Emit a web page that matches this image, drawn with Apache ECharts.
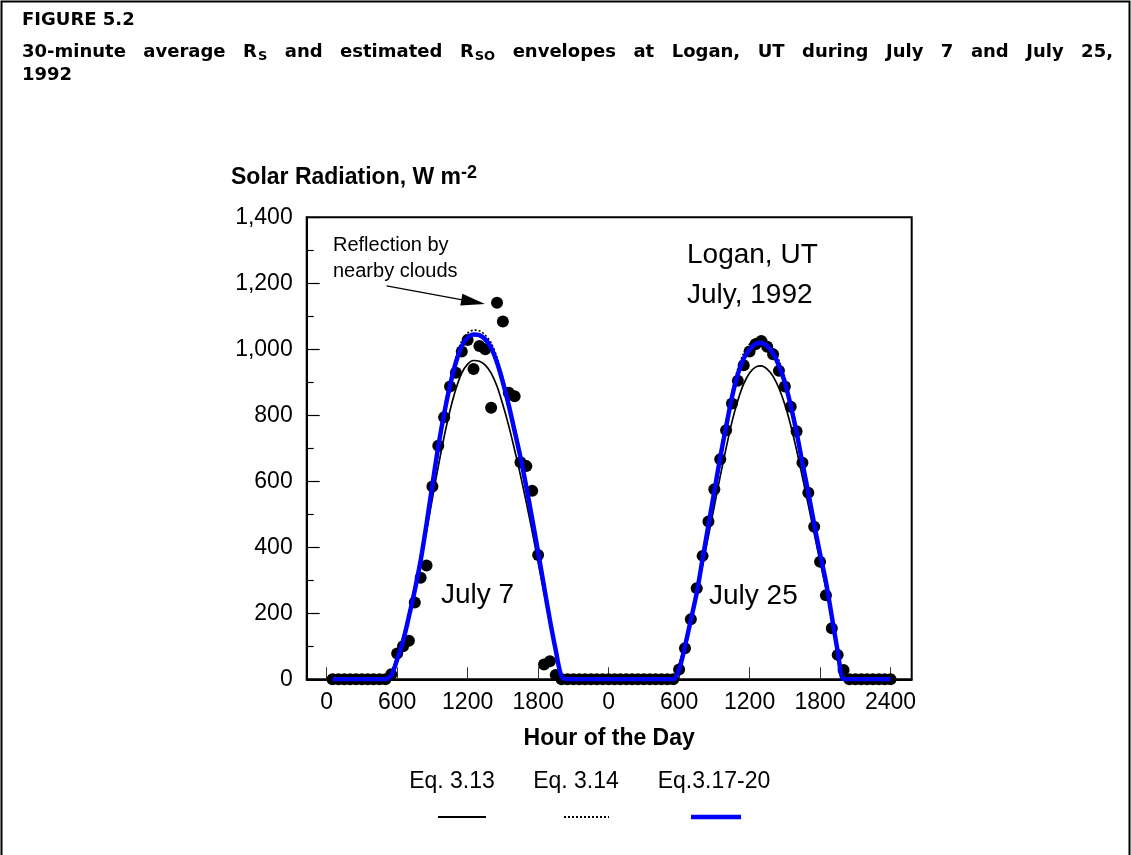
<!DOCTYPE html>
<html>
<head>
<meta charset="utf-8">
<script src="https://cdn.jsdelivr.net/npm/echarts@6/dist/echarts.min.js"></script>
<style>
  html, body { margin: 0; padding: 0; background: #ffffff; }
  #chart { width: 1131px; height: 855px; }
</style>
</head>
<body>
<div id="chart"></div>
<script>
// ---- Data: 30-minute samples, hours of the day ----
const halfHours = [0.5, 1, 1.5, 2, 2.5, 3, 3.5, 4, 4.5, 5, 5.5, 6, 6.5, 7, 7.5, 8,
  8.5, 9, 9.5, 10, 10.5, 11, 11.5, 12, 12.5, 13, 13.5, 14, 14.5, 15, 15.5, 16,
  16.5, 17, 17.5, 18, 18.5, 19, 19.5, 20, 20.5, 21, 21.5, 22, 22.5, 23, 23.5, 24];

// Measured 30-minute average Rs (W m-2)
const july7Measured = [0, 0, 0, 0, 0, 0, 0, 0, 0, 0,
  15, 78, 100, 117, 233, 308, 345, 584, 708, 794, 887, 929, 993, 1028, 940, 1010,
  1000, 823, 1141, 1084, 868, 858, 658, 646, 571, 377, 45, 55, 13,
  0, 0, 0, 0, 0, 0, 0, 0, 0];
const july25Measured = [0, 0, 0, 0, 0, 0, 0, 0, 0, 0, 0,
  30, 94, 182, 276, 374, 478, 576, 667, 755, 836, 905, 952, 993, 1015, 1025, 1008,
  985, 935, 887, 826, 752, 656, 565, 462, 356, 255, 155, 74, 28,
  0, 0, 0, 0, 0, 0, 0, 0];

// Estimated Rso envelopes (W m-2)
const july7Eq313 = [0, 0, 0, 0, 0, 0, 0, 0, 0, 0,
  20, 72, 130, 198, 272, 355, 450, 548, 645, 735, 815, 880, 928, 955, 966, 964,
  952, 928, 888, 832, 768, 695, 618, 535, 447, 355, 262, 172, 88, 15,
  0, 0, 0, 0, 0, 0, 0, 0];
const july25Eq313 = [0, 0, 0, 0, 0, 0, 0, 0, 0, 0, 0,
  45, 110, 180, 255, 345, 435, 525, 615, 700, 780, 845, 895, 928, 946, 950, 940,
  918, 882, 833, 770, 695, 612, 528, 442, 357, 275, 185, 90, 5,
  0, 0, 0, 0, 0, 0, 0, 0];
const july7Eq314 = [0, 0, 0, 0, 0, 0, 0, 0, 0, 0,
  13, 62, 118, 195, 276, 368, 481, 603, 720, 820, 906, 976, 1025, 1049, 1058, 1056,
  1043, 1019, 975, 914, 844, 766, 684, 593, 495, 394, 290, 186, 92, 9,
  0, 0, 0, 0, 0, 0, 0, 0];
const july25Eq314 = [0, 0, 0, 0, 0, 0, 0, 0, 0, 0, 0,
  32, 103, 185, 268, 372, 477, 581, 685, 780, 870, 941, 988, 1016, 1032, 1036, 1026,
  1004, 966, 915, 844, 761, 667, 575, 479, 388, 301, 195, 88, 0,
  0, 0, 0, 0, 0, 0, 0, 0];
const july7Eq31720 = [0, 0, 0, 0, 0, 0, 0, 0, 0, 0,
  12, 60, 115, 190, 270, 360, 470, 590, 705, 805, 890, 960, 1010, 1035, 1045, 1043,
  1030, 1005, 960, 900, 830, 752, 672, 582, 485, 385, 282, 180, 88, 8,
  0, 0, 0, 0, 0, 0, 0, 0];
const july25Eq31720 = [0, 0, 0, 0, 0, 0, 0, 0, 0, 0, 0,
  30, 100, 180, 262, 365, 468, 570, 672, 765, 855, 925, 972, 1000, 1016, 1020, 1010,
  988, 950, 900, 830, 748, 655, 565, 470, 380, 295, 190, 85, 0,
  0, 0, 0, 0, 0, 0, 0, 0];

// Axis ticks (hours along the two-day axis) and their labels
const hourTicks = [0, 6, 12, 18, 24, 30, 36, 42, 48];
const hourLabels = ['0', '600', '1200', '1800', '0', '600', '1200', '1800', '2400'];

const legendNames = ['Eq. 3.13', 'Eq. 3.14', 'Eq.3.17-20'];

// Annotation arrow: tail and arrow-head centre, in data units (hour, W m-2)
const arrowTail = [5.1, 1192];
const arrowHead = [12.47, 1144];

// ---- helpers ----
// July 7 sits on hours 0-24, July 25 on hours 24-48
function twoDays(day1, day2) {
  const out = [];
  halfHours.forEach((h, i) => out.push([h, day1[i]]));
  halfHours.forEach((h, i) => out.push([h + 24, day2[i]]));
  return out;
}

const SANS = '"Liberation Sans", Arial, Helvetica, sans-serif';
const TITLE_FAMILY = '"DejaVu Sans", Verdana, sans-serif';
const titleSize = 18, subSize = 13;

// caption: each word placed so the line is justified between two margins
const captionWords = ['30-minute', 'average', ['R', 'S'], 'and', 'estimated', ['R', 'SO'],
  'envelopes', 'at', 'Logan,', 'UT', 'during', 'July', '7', 'and', 'July', '25,'];

function captionElements(left, right, y) {
  const c = document.createElement('canvas').getContext('2d');
  const mainFont = 'bold ' + titleSize + 'px ' + TITLE_FAMILY;
  const subFont = 'bold ' + subSize + 'px ' + TITLE_FAMILY;
  const widths = captionWords.map(w => {
    if (Array.isArray(w)) {
      c.font = mainFont; const a = c.measureText(w[0]).width;
      c.font = subFont; return a + c.measureText(w[1]).width + 1;
    }
    c.font = mainFont; return c.measureText(w).width;
  });
  const total = widths.reduce((s, v) => s + v, 0);
  const gap = (right - left - total) / (captionWords.length - 1);
  let x = left;
  return captionWords.map((w, i) => {
    const el = {
      type: 'text', x: x, y: y, silent: true,
      style: Array.isArray(w) ? {
        text: '{m|' + w[0] + '}{s|' + w[1] + '}',
        rich: {
          m: { font: mainFont, fill: '#000' },
          s: { font: subFont, fill: '#000', padding: [10, 0, 0, 1] }
        },
        textAlign: 'left', textVerticalAlign: 'middle', align: 'left', verticalAlign: 'middle'
      } : {
        text: w, font: mainFont, fill: '#000',
        textAlign: 'left', textVerticalAlign: 'middle', align: 'left', verticalAlign: 'middle'
      }
    };
    x += widths[i] + gap;
    return el;
  });
}

function txt(x, y, text, font, align) {
  return {
    type: 'text', x: x, y: y, silent: true,
    style: { text: text, font: font, fill: '#000',
      textAlign: align || 'left', textVerticalAlign: 'middle',
      align: align || 'left', verticalAlign: 'middle' }
  };
}

// legend drawn below the axis title: name above a short line sample
const legendTextX = [452, 576, 714];
const legendLineX = [[438, 486], [564, 609], [691, 741]];
const legendLineStyles = [
  { stroke: '#000', lineWidth: 2 },
  { stroke: '#000', lineWidth: 2, lineDash: [2, 2] },
  { stroke: '#0000ff', lineWidth: 4.5 }
];
const legendElements = [];
legendNames.forEach((name, i) => {
  legendElements.push(txt(legendTextX[i], 782, name, '23px ' + SANS, 'center'));
  legendElements.push({
    type: 'line', silent: true,
    shape: { x1: legendLineX[i][0], y1: 817, x2: legendLineX[i][1], y2: 817 },
    style: legendLineStyles[i]
  });
});

const chart = echarts.init(document.getElementById('chart'), null, { renderer: 'canvas' });

const option = {
  animation: false,
  backgroundColor: '#ffffff',
  grid: {
    left: 306.7, top: 217.3, width: 605, height: 462,
    show: true, borderColor: '#000', borderWidth: 2, backgroundColor: 'transparent',
    containLabel: false
  },
  xAxis: {
    type: 'value', min: -1.7, max: 49.8,
    axisLine: { show: true, onZero: false, lineStyle: { color: '#000', width: 2 } },
    axisTick: { show: true, inside: true, length: 12, customValues: hourTicks,
      lineStyle: { color: '#333', width: 1 } },
    axisLabel: { customValues: hourTicks, color: '#000', fontSize: 23, fontFamily: SANS, margin: 12,
      formatter: v => hourLabels[hourTicks.indexOf(v)] },
    splitLine: { show: false },
    name: 'Hour of the Day', nameLocation: 'middle', nameGap: 48,
    nameTextStyle: { color: '#000', fontSize: 23, fontWeight: 'bold', fontFamily: SANS }
  },
  yAxis: {
    type: 'value', min: 0, max: 1400, interval: 200,
    axisLine: { show: true, onZero: false, lineStyle: { color: '#000', width: 2 } },
    axisTick: { show: true, inside: true, length: 13, lineStyle: { color: '#000', width: 1.2 } },
    minorTick: { show: true, splitNumber: 2, length: 7, lineStyle: { color: '#000', width: 1.2 } },
    axisLabel: { color: '#000', fontSize: 23, fontFamily: SANS, margin: 14,
      formatter: v => String(v).replace(/\B(?=(\d{3})+(?!\d))/g, ',') },
    splitLine: { show: false }
  },
  series: [
    {
      name: 'Measured', type: 'scatter', z: 2,
      data: twoDays(july7Measured, july25Measured),
      symbol: 'circle', symbolSize: 12,
      itemStyle: { color: '#000', opacity: 1 },
      markLine: {
        silent: true, animation: false,
        label: { show: false },
        lineStyle: { color: '#000', width: 1.3, type: 'solid', opacity: 1 },
        data: [[
          { coord: arrowTail, symbol: 'none' },
          { coord: arrowHead, symbol: 'triangle', symbolSize: [12, 24] }
        ]]
      }
    },
    {
      name: legendNames[0], type: 'line', z: 3,
      data: twoDays(july7Eq313, july25Eq313),
      smooth: 0.3, showSymbol: false,
      lineStyle: { color: '#000', width: 1.7 }
    },
    {
      name: legendNames[1], type: 'line', z: 4,
      data: twoDays(july7Eq314, july25Eq314),
      smooth: 0.3, showSymbol: false,
      lineStyle: { color: '#000', width: 1.7, type: [2, 2] }
    },
    {
      name: legendNames[2], type: 'line', z: 5,
      data: twoDays(july7Eq31720, july25Eq31720),
      smooth: 0.3, showSymbol: false,
      lineStyle: { color: '#0000ff', width: 4.5 }
    }
  ],
  graphic: [
    { type: 'rect', silent: true, shape: { x: 1.5, y: 1.5, width: 1128, height: 900 },
      style: { fill: 'none', stroke: '#000', lineWidth: 2 } },
    txt(22, 20, 'FIGURE 5.2', 'bold ' + titleSize + 'px ' + TITLE_FAMILY),
    ...captionElements(22, 1113, 52),
    txt(22, 75, '1992', 'bold ' + titleSize + 'px ' + TITLE_FAMILY),
    {
      type: 'text', x: 231, y: 178, silent: true,
      style: {
        text: '{b|Solar Radiation, W m}{sup|-2}',
        rich: {
          b: { font: 'bold 23px ' + SANS, fill: '#000' },
          sup: { font: 'bold 18px ' + SANS, fill: '#000', padding: [0, 0, 10, 0] }
        },
        textAlign: 'left', textVerticalAlign: 'middle', align: 'left', verticalAlign: 'middle'
      }
    },
    {
      type: 'text', x: 333, y: 258, silent: true,
      style: { text: 'Reflection by\nnearby clouds', font: '20px ' + SANS, lineHeight: 26, fill: '#000',
        textAlign: 'left', textVerticalAlign: 'middle', align: 'left', verticalAlign: 'middle' }
    },
    {
      type: 'text', x: 687, y: 275, silent: true,
      style: { text: 'Logan, UT\nJuly, 1992', font: '28px ' + SANS, lineHeight: 40, fill: '#000',
        textAlign: 'left', textVerticalAlign: 'middle', align: 'left', verticalAlign: 'middle' }
    },
    txt(441, 595, 'July 7', '28px ' + SANS),
    txt(709, 596, 'July 25', '28px ' + SANS),
    ...legendElements
  ]
};

chart.setOption(option);
</script>
</body>
</html>
